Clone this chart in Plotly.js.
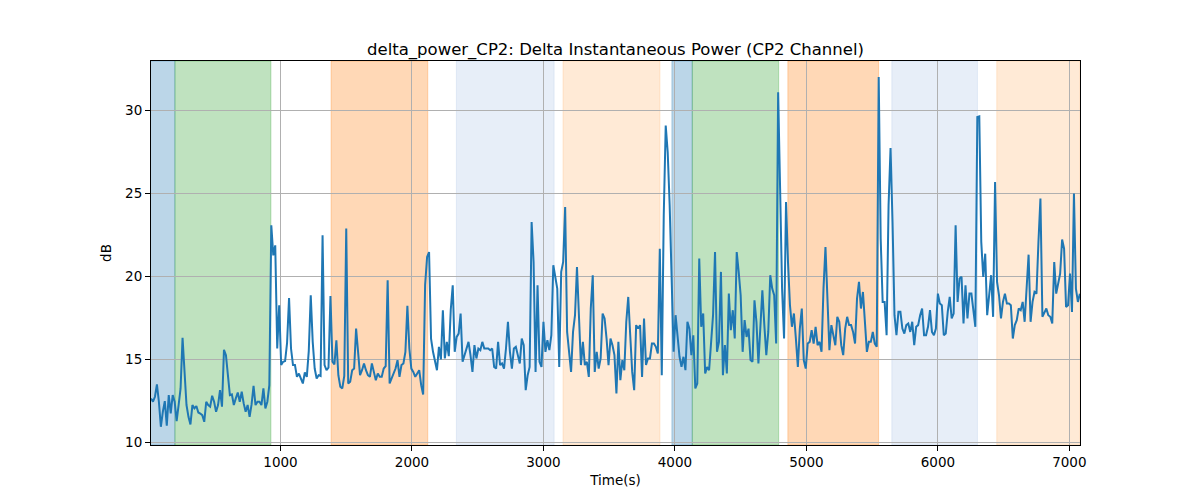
<!DOCTYPE html>
<html>
<head>
<meta charset="utf-8">
<script src="https://cdn.plot.ly/plotly-3.0.1.min.js"></script>
<style>
  html, body { margin: 0; padding: 0; background: #fff; }
  #chart { width: 1200px; height: 500px; }
</style>
</head>
<body>
<div id="chart"></div>
<script>
// sampling of the CP2 series (seconds)
var t0 = 15;
var dt = 15;

// delta power, dB, one value per sample
var deltaPower = [
  12.65, 12.45, 12.75, 13.49, 12.45, 10.94, 11.84, 12.49, 11.0, 12.85,
  11.74, 12.85, 12.45, 11.28, 12.25, 13.25, 16.3, 14.25, 12.25, 11.54,
  11.08, 12.25, 12.05, 12.19, 11.8, 11.74, 11.64, 11.24, 12.45, 12.25,
  12.15, 12.81, 12.45, 11.84, 12.25, 13.15, 12.15, 15.58, 15.26, 14.05,
  12.85, 12.89, 12.25, 12.65, 13.01, 12.45, 13.05, 12.35, 11.84, 12.25,
  11.54, 12.29, 13.41, 12.25, 12.45, 12.45, 12.25, 13.25, 12.05, 12.45,
  13.45, 23.09, 21.28, 21.88, 15.66, 18.27, 14.66, 14.86, 14.9, 16.0,
  18.71, 15.66, 14.66, 14.66, 13.95, 14.15, 13.89, 13.55, 14.21, 13.95,
  15.5, 18.87, 16.06, 14.45, 13.85, 14.05, 14.0, 22.49, 14.66, 14.35,
  14.5, 18.83, 14.86, 14.7, 16.16, 14.05, 13.35, 13.25, 14.0, 22.89,
  13.55, 13.65, 14.35, 14.45, 16.86, 15.66, 14.05, 14.35, 14.76, 14.35,
  14.05, 13.95, 14.76, 14.25, 13.75, 14.15, 13.95, 13.95, 14.45, 14.6,
  19.78, 13.55, 13.85, 14.05, 14.45, 14.96, 13.95, 14.66, 14.76, 15.46,
  18.23, 15.66, 14.45, 14.25, 13.95, 14.15, 14.35, 13.45, 12.89, 19.5,
  21.18, 21.48, 16.26, 15.46, 14.86, 14.35, 15.76, 15.0, 17.97, 15.06,
  16.06, 15.2, 18.0, 19.47, 15.46, 16.36, 16.56, 17.77, 14.86, 15.26,
  15.56, 16.06, 15.26, 14.25, 15.86, 15.06, 15.66, 15.56, 16.06, 15.66,
  15.66, 15.66, 15.56, 15.66, 14.55, 14.45, 16.06, 14.66, 14.76, 14.45,
  15.66, 17.27, 15.46, 14.45, 15.66, 15.76, 15.26, 14.76, 16.26, 15.86,
  13.15, 14.05, 14.55, 23.29, 20.88, 14.25, 19.47, 14.86, 14.55, 17.27,
  15.46, 16.16, 15.56, 16.46, 20.68, 20.08, 19.27, 14.55, 20.28, 20.88,
  24.19, 16.66, 15.26, 14.25, 16.66, 17.67, 20.58, 17.47, 14.66, 16.06,
  14.66, 14.86, 13.95, 18.07, 20.08, 14.25, 15.46, 14.45, 15.06, 17.77,
  17.47, 16.26, 14.66, 16.26, 15.86, 15.26, 12.95, 16.06, 13.75, 14.96,
  14.35, 17.27, 18.77, 16.46, 14.25, 13.15, 17.07, 16.86, 17.07, 13.95,
  17.47, 14.66, 15.06, 15.06, 15.96, 15.96, 15.76, 15.36, 21.68, 14.05,
  23.7, 29.11, 27.51, 24.3, 19.27, 15.46, 17.67, 16.26, 15.16, 14.55,
  15.16, 14.35, 17.27, 16.86, 15.26, 16.46, 13.25, 13.55, 21.08, 16.97,
  17.77, 14.15, 14.55, 14.35, 15.86, 17.67, 21.48, 15.46, 16.06, 20.28,
  14.05, 15.86, 14.15, 18.97, 16.76, 17.97, 16.26, 21.48, 20.28, 18.87,
  15.46, 17.37, 16.36, 16.86, 14.96, 14.86, 18.57, 17.27, 14.76, 17.07,
  19.17, 17.07, 15.26, 16.66, 20.08, 19.27, 18.87, 15.96, 31.12, 25.3,
  19.27, 16.26, 24.5, 20.88, 18.27, 16.97, 17.77, 16.26, 14.55, 16.86,
  18.07, 14.96, 14.45, 15.96, 16.06, 16.76, 15.96, 16.97, 15.86, 16.06,
  15.46, 19.27, 21.78, 18.67, 15.56, 17.07, 16.46, 15.86, 17.57, 17.27,
  15.86, 15.26, 16.86, 17.57, 17.07, 17.07, 16.66, 15.96, 18.67, 19.68,
  18.07, 19.07, 17.27, 15.46, 16.06, 16.06, 16.66, 15.96, 15.76, 32.03,
  22.29, 18.47, 18.47, 16.46, 24.3, 27.75, 23.29, 17.67, 16.46, 17.87,
  17.87, 16.86, 16.56, 17.07, 17.17, 16.66, 17.27, 15.86, 16.97, 17.07,
  17.67, 18.07, 16.46, 16.46, 16.97, 17.97, 16.66, 16.46, 16.86, 18.97,
  18.37, 18.27, 16.46, 16.56, 17.87, 18.77, 17.47, 17.77, 23.09, 18.47,
  19.88, 19.98, 17.17, 19.47, 17.47, 18.97, 18.97, 17.97, 16.97, 29.62,
  29.66, 22.09, 19.98, 21.38, 17.67, 18.87, 20.08, 17.57, 25.7, 19.68,
  18.87, 17.47, 18.47, 18.97, 18.37, 18.37, 18.27, 16.26, 17.07, 17.37,
  18.07, 17.97, 18.47, 17.27, 19.27, 21.32, 17.27, 18.47, 19.07, 18.97,
  22.09, 24.7, 17.57, 17.87, 18.07, 17.67, 17.57, 17.17, 20.88, 18.97,
  19.68, 20.18, 22.23, 21.68, 18.17, 18.27, 20.18, 17.87, 25.0, 19.27,
  18.47, 18.97
];

// shaded phases (seconds)
var spanStart = [0, 197, 1385, 2338, 3149, 3977, 4132, 4859, 5650, 6448];
var spanEnd = [197, 927, 2120, 3081, 3886, 4132, 4789, 5549, 6301, 7080];
var spanColor = [
  "rgba(31,119,180,0.3)", "rgba(44,160,44,0.3)", "rgba(255,127,14,0.3)",
  "rgba(174,199,232,0.3)", "rgba(255,187,120,0.3)",
  "rgba(31,119,180,0.3)", "rgba(44,160,44,0.3)", "rgba(255,127,14,0.3)",
  "rgba(174,199,232,0.3)", "rgba(255,187,120,0.3)"
];

var xTicks = [1000, 2000, 3000, 4000, 5000, 6000, 7000];
var yTicks = [10, 15, 20, 25, 30];

var shapes = spanStart.map(function (s, i) {
  return {
    type: "rect",
    xref: "x",
    yref: "paper",
    x0: s,
    x1: spanEnd[i],
    y0: 0,
    y1: 1,
    fillcolor: spanColor[i],
    line: { width: 1, color: spanColor[i] }, // patch edge, like axvspan
    layer: "below",
  };
});

var data = [
  {
    y: deltaPower,
    x0: t0,
    dx: dt,
    type: "scatter",
    mode: "lines",
    line: { color: "#1f77b4", width: 2 },
    hoverinfo: "x+y",
  },
];

var axisCommon = {
  showgrid: true,
  gridcolor: "#b0b0b0",
  gridwidth: 1,
  zeroline: false,
  showline: true,
  linecolor: "black",
  linewidth: 1,
  mirror: true,
  ticks: "outside",
  ticklen: 5,
  tickwidth: 1,
  tickcolor: "black",
  tickfont: { family: "DejaVu Sans", size: 13.5, color: "black" },
};

var layout = {
  width: 1200,
  height: 500,
  margin: { l: 151, r: 120, t: 61, b: 55 },
  paper_bgcolor: "white",
  plot_bgcolor: "white",
  showlegend: false,
  font: { family: "DejaVu Sans", color: "black" },
  title: {
    text: "delta_power_CP2: Delta Instantaneous Power (CP2 Channel)",
    font: { family: "DejaVu Sans", size: 16.5, color: "black" },
    x: 0.5,
    xref: "paper",
    y: 1,
    yref: "paper",
    yanchor: "bottom",
    pad: { b: 6 },
  },
  xaxis: Object.assign({}, axisCommon, {
    range: [15, 7081],
    tickvals: xTicks,
    ticktext: xTicks.map(String),
    title: { text: "Time(s)", font: { family: "DejaVu Sans", size: 13.5 }, standoff: 6 },
  }),
  yaxis: Object.assign({}, axisCommon, {
    range: [9.84, 33.0],
    tickvals: yTicks,
    ticktext: yTicks.map(String),
    title: { text: "dB", font: { family: "DejaVu Sans", size: 13.5 }, standoff: 10 },
  }),
  shapes: shapes,
};

Plotly.newPlot("chart", data, layout, { displayModeBar: false, responsive: false });
</script>
</body>
</html>
